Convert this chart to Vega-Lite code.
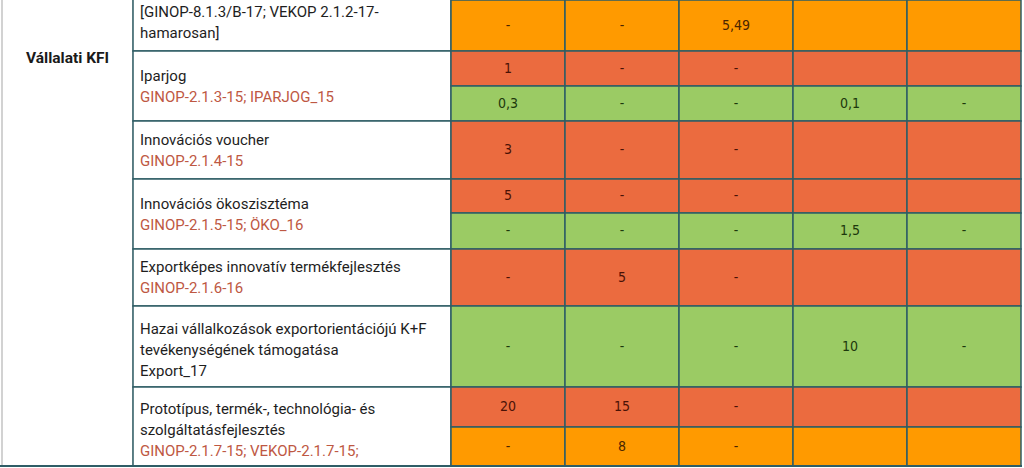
{
  "$schema": "https://vega.github.io/schema/vega-lite/v6.json",
  "width": 1024,
  "height": 468,
  "autosize": {"type": "fit", "contains": "padding"},
  "padding": 0,
  "background": "white",
  "config": {"view": {"stroke": null}},
  "datasets": {
    "left": [{"id": "L", "x0": 2, "x1": 133, "top": -350, "bottom": 466, "label": "Vállalati KFI"}],
    "desc": [
      {"id": "D0", "lines": 2, "x0": 133, "x1": 451, "top": -6, "bottom": 51, "name": "[GINOP-8.1.3/B-17; VEKOP 2.1.2-17-\nhamarosan]", "code": ""},
      {"id": "D1", "lines": 2, "x0": 133, "x1": 451, "top": 51, "bottom": 121, "name": "Iparjog", "code": "GINOP-2.1.3-15; IPARJOG_15"},
      {"id": "D2", "lines": 2, "x0": 133, "x1": 451, "top": 121, "bottom": 179, "name": "Innovációs voucher", "code": "GINOP-2.1.4-15"},
      {"id": "D3", "lines": 2, "x0": 133, "x1": 451, "top": 179, "bottom": 249, "name": "Innovációs ökoszisztéma", "code": "GINOP-2.1.5-15; ÖKO_16"},
      {"id": "D4", "lines": 2, "x0": 133, "x1": 451, "top": 249, "bottom": 306, "name": "Exportképes innovatív termékfejlesztés", "code": "GINOP-2.1.6-16"},
      {"id": "D5", "lines": 3, "x0": 133, "x1": 451, "top": 306, "bottom": 387, "name": "Hazai vállalkozások exportorientációjú K+F\ntevékenységének támogatása\nExport_17", "code": ""},
      {"id": "D6", "lines": 3, "x0": 133, "x1": 451, "top": 387, "bottom": 466, "name": "Prototípus, termék-, technológia- és\nszolgáltatásfejlesztés", "code": "GINOP-2.1.7-15; VEKOP-2.1.7-15;"}
    ],
    "vals": [
      {"r": 0, "kind": "orange", "c": 1, "x0": 451, "x1": 565, "top": 0, "bottom": 51, "v": "-"},
      {"r": 0, "kind": "orange", "c": 2, "x0": 565, "x1": 679, "top": 0, "bottom": 51, "v": "-"},
      {"r": 0, "kind": "orange", "c": 3, "x0": 679, "x1": 793, "top": 0, "bottom": 51, "v": "5,49"},
      {"r": 0, "kind": "orange", "c": 4, "x0": 793, "x1": 907, "top": 0, "bottom": 51, "v": ""},
      {"r": 0, "kind": "orange", "c": 5, "x0": 907, "x1": 1021, "top": 0, "bottom": 51, "v": ""},
      {"r": 1, "kind": "red", "c": 1, "x0": 451, "x1": 565, "top": 51, "bottom": 86, "v": "1"},
      {"r": 1, "kind": "red", "c": 2, "x0": 565, "x1": 679, "top": 51, "bottom": 86, "v": "-"},
      {"r": 1, "kind": "red", "c": 3, "x0": 679, "x1": 793, "top": 51, "bottom": 86, "v": "-"},
      {"r": 1, "kind": "red", "c": 4, "x0": 793, "x1": 907, "top": 51, "bottom": 86, "v": ""},
      {"r": 1, "kind": "red", "c": 5, "x0": 907, "x1": 1021, "top": 51, "bottom": 86, "v": ""},
      {"r": 2, "kind": "green", "c": 1, "x0": 451, "x1": 565, "top": 86, "bottom": 121, "v": "0,3"},
      {"r": 2, "kind": "green", "c": 2, "x0": 565, "x1": 679, "top": 86, "bottom": 121, "v": "-"},
      {"r": 2, "kind": "green", "c": 3, "x0": 679, "x1": 793, "top": 86, "bottom": 121, "v": "-"},
      {"r": 2, "kind": "green", "c": 4, "x0": 793, "x1": 907, "top": 86, "bottom": 121, "v": "0,1"},
      {"r": 2, "kind": "green", "c": 5, "x0": 907, "x1": 1021, "top": 86, "bottom": 121, "v": "-"},
      {"r": 3, "kind": "red", "c": 1, "x0": 451, "x1": 565, "top": 121, "bottom": 179, "v": "3"},
      {"r": 3, "kind": "red", "c": 2, "x0": 565, "x1": 679, "top": 121, "bottom": 179, "v": "-"},
      {"r": 3, "kind": "red", "c": 3, "x0": 679, "x1": 793, "top": 121, "bottom": 179, "v": "-"},
      {"r": 3, "kind": "red", "c": 4, "x0": 793, "x1": 907, "top": 121, "bottom": 179, "v": ""},
      {"r": 3, "kind": "red", "c": 5, "x0": 907, "x1": 1021, "top": 121, "bottom": 179, "v": ""},
      {"r": 4, "kind": "red", "c": 1, "x0": 451, "x1": 565, "top": 179, "bottom": 213, "v": "5"},
      {"r": 4, "kind": "red", "c": 2, "x0": 565, "x1": 679, "top": 179, "bottom": 213, "v": "-"},
      {"r": 4, "kind": "red", "c": 3, "x0": 679, "x1": 793, "top": 179, "bottom": 213, "v": "-"},
      {"r": 4, "kind": "red", "c": 4, "x0": 793, "x1": 907, "top": 179, "bottom": 213, "v": ""},
      {"r": 4, "kind": "red", "c": 5, "x0": 907, "x1": 1021, "top": 179, "bottom": 213, "v": ""},
      {"r": 5, "kind": "green", "c": 1, "x0": 451, "x1": 565, "top": 213, "bottom": 249, "v": "-"},
      {"r": 5, "kind": "green", "c": 2, "x0": 565, "x1": 679, "top": 213, "bottom": 249, "v": "-"},
      {"r": 5, "kind": "green", "c": 3, "x0": 679, "x1": 793, "top": 213, "bottom": 249, "v": "-"},
      {"r": 5, "kind": "green", "c": 4, "x0": 793, "x1": 907, "top": 213, "bottom": 249, "v": "1,5"},
      {"r": 5, "kind": "green", "c": 5, "x0": 907, "x1": 1021, "top": 213, "bottom": 249, "v": "-"},
      {"r": 6, "kind": "red", "c": 1, "x0": 451, "x1": 565, "top": 249, "bottom": 306, "v": "-"},
      {"r": 6, "kind": "red", "c": 2, "x0": 565, "x1": 679, "top": 249, "bottom": 306, "v": "5"},
      {"r": 6, "kind": "red", "c": 3, "x0": 679, "x1": 793, "top": 249, "bottom": 306, "v": "-"},
      {"r": 6, "kind": "red", "c": 4, "x0": 793, "x1": 907, "top": 249, "bottom": 306, "v": ""},
      {"r": 6, "kind": "red", "c": 5, "x0": 907, "x1": 1021, "top": 249, "bottom": 306, "v": ""},
      {"r": 7, "kind": "green", "c": 1, "x0": 451, "x1": 565, "top": 306, "bottom": 387, "v": "-"},
      {"r": 7, "kind": "green", "c": 2, "x0": 565, "x1": 679, "top": 306, "bottom": 387, "v": "-"},
      {"r": 7, "kind": "green", "c": 3, "x0": 679, "x1": 793, "top": 306, "bottom": 387, "v": "-"},
      {"r": 7, "kind": "green", "c": 4, "x0": 793, "x1": 907, "top": 306, "bottom": 387, "v": "10"},
      {"r": 7, "kind": "green", "c": 5, "x0": 907, "x1": 1021, "top": 306, "bottom": 387, "v": "-"},
      {"r": 8, "kind": "red", "c": 1, "x0": 451, "x1": 565, "top": 387, "bottom": 427, "v": "20"},
      {"r": 8, "kind": "red", "c": 2, "x0": 565, "x1": 679, "top": 387, "bottom": 427, "v": "15"},
      {"r": 8, "kind": "red", "c": 3, "x0": 679, "x1": 793, "top": 387, "bottom": 427, "v": "-"},
      {"r": 8, "kind": "red", "c": 4, "x0": 793, "x1": 907, "top": 387, "bottom": 427, "v": ""},
      {"r": 8, "kind": "red", "c": 5, "x0": 907, "x1": 1021, "top": 387, "bottom": 427, "v": ""},
      {"r": 9, "kind": "orange", "c": 1, "x0": 451, "x1": 565, "top": 427, "bottom": 466, "v": "-"},
      {"r": 9, "kind": "orange", "c": 2, "x0": 565, "x1": 679, "top": 427, "bottom": 466, "v": "8"},
      {"r": 9, "kind": "orange", "c": 3, "x0": 679, "x1": 793, "top": 427, "bottom": 466, "v": "-"},
      {"r": 9, "kind": "orange", "c": 4, "x0": 793, "x1": 907, "top": 427, "bottom": 466, "v": ""},
      {"r": 9, "kind": "orange", "c": 5, "x0": 907, "x1": 1021, "top": 427, "bottom": 466, "v": ""}
    ],
    "rules": [{"x0": 0, "x1": 1022, "y": 466}]
  },
  "layer": [
    {
      "data": {"name": "left"},
      "mark": {"type": "rect", "fill": "white", "stroke": "#c4c4c4", "strokeWidth": 1.5, "clip": true},
      "encoding": {
        "x": {"field": "x0", "type": "quantitative", "scale": {"domain": [0, 1024], "nice": false, "zero": false}, "axis": null},
        "x2": {"field": "x1"},
        "y": {"field": "top", "type": "quantitative", "scale": {"domain": [0, 468], "reverse": true, "nice": false, "zero": false}, "axis": null},
        "y2": {"field": "bottom"}
      }
    },
    {
      "data": {"name": "desc"},
      "mark": {"type": "rect", "fill": "white", "stroke": "#2f5d66", "strokeWidth": 1.5, "clip": true},
      "encoding": {
        "x": {"field": "x0", "type": "quantitative", "scale": {"domain": [0, 1024], "nice": false, "zero": false}, "axis": null},
        "x2": {"field": "x1"},
        "y": {"field": "top", "type": "quantitative", "scale": {"domain": [0, 468], "reverse": true, "nice": false, "zero": false}, "axis": null},
        "y2": {"field": "bottom"}
      }
    },
    {
      "data": {"name": "vals"},
      "mark": {"type": "rect", "stroke": "#2f5d66", "strokeWidth": 1.5, "clip": true},
      "encoding": {
        "x": {"field": "x0", "type": "quantitative", "scale": {"domain": [0, 1024], "nice": false, "zero": false}, "axis": null},
        "x2": {"field": "x1"},
        "y": {"field": "top", "type": "quantitative", "scale": {"domain": [0, 468], "reverse": true, "nice": false, "zero": false}, "axis": null},
        "y2": {"field": "bottom"},
        "fill": {"field": "kind", "type": "nominal", "scale": {"domain": ["orange", "red", "green"], "range": ["#FF9A00", "#EB6B3F", "#9BCB64"]}, "legend": null}
      }
    },
    {
      "data": {"name": "rules"},
      "mark": {"type": "rule", "stroke": "#2f5d66", "strokeWidth": 2, "clip": true},
      "encoding": {
        "x": {"field": "x0", "type": "quantitative", "scale": {"domain": [0, 1024], "nice": false, "zero": false}, "axis": null},
        "x2": {"field": "x1"},
        "y": {"field": "y", "type": "quantitative", "scale": {"domain": [0, 468], "reverse": true, "nice": false, "zero": false}, "axis": null}
      }
    },
    {
      "data": {"name": "left"},
      "transform": [
        {"fold": ["top", "bottom"], "as": ["ky", "yv"]},
        {"fold": ["x0", "x1"], "as": ["kx", "xv"]}
      ],
      "mark": {"type": "text", "font": "Roboto", "fontSize": 15.5, "fontWeight": "bold", "color": "#1a1a1a", "align": "center", "baseline": "middle", "clip": true},
      "encoding": {
        "x": {"field": "xv", "aggregate": "mean", "type": "quantitative", "scale": {"domain": [0, 1024], "nice": false, "zero": false}, "axis": null},
        "y": {"field": "yv", "aggregate": "mean", "type": "quantitative", "scale": {"domain": [0, 468], "reverse": true, "nice": false, "zero": false}, "axis": null},
        "text": {"field": "label"}
      }
    },
    {
      "data": {"name": "desc"},
      "transform": [{"filter": "datum.lines == 2"}, {"fold": ["top", "bottom"], "as": ["ky", "yv"]}],
      "mark": {"type": "text", "font": "Roboto", "fontSize": 15, "lineHeight": 21, "lineBreak": "\n", "color": "#1e1e1e", "align": "left", "baseline": "middle", "dx": 7, "dy": -10.5, "clip": true},
      "encoding": {
        "x": {"field": "x0", "type": "quantitative", "scale": {"domain": [0, 1024], "nice": false, "zero": false}, "axis": null},
        "y": {"field": "yv", "aggregate": "mean", "type": "quantitative", "scale": {"domain": [0, 468], "reverse": true, "nice": false, "zero": false}, "axis": null},
        "text": {"field": "name"},
        "detail": {"field": "id"}
      }
    },
    {
      "data": {"name": "desc"},
      "transform": [{"filter": "datum.lines == 3"}, {"fold": ["top", "bottom"], "as": ["ky", "yv"]}],
      "mark": {"type": "text", "font": "Roboto", "fontSize": 15, "lineHeight": 21, "lineBreak": "\n", "color": "#1e1e1e", "align": "left", "baseline": "middle", "dx": 7, "dy": -18, "clip": true},
      "encoding": {
        "x": {"field": "x0", "type": "quantitative", "scale": {"domain": [0, 1024], "nice": false, "zero": false}, "axis": null},
        "y": {"field": "yv", "aggregate": "mean", "type": "quantitative", "scale": {"domain": [0, 468], "reverse": true, "nice": false, "zero": false}, "axis": null},
        "text": {"field": "name"},
        "detail": {"field": "id"}
      }
    },
    {
      "data": {"name": "desc"},
      "transform": [{"filter": "datum.code != '' && datum.lines == 2"}, {"fold": ["top", "bottom"], "as": ["ky", "yv"]}],
      "mark": {"type": "text", "font": "Roboto", "fontSize": 15, "color": "#BE5843", "align": "left", "baseline": "middle", "dx": 7, "dy": 10.5, "clip": true},
      "encoding": {
        "x": {"field": "x0", "type": "quantitative", "scale": {"domain": [0, 1024], "nice": false, "zero": false}, "axis": null},
        "y": {"field": "yv", "aggregate": "mean", "type": "quantitative", "scale": {"domain": [0, 468], "reverse": true, "nice": false, "zero": false}, "axis": null},
        "text": {"field": "code"},
        "detail": {"field": "id"}
      }
    },
    {
      "data": {"name": "desc"},
      "transform": [{"filter": "datum.code != '' && datum.lines == 3"}, {"fold": ["top", "bottom"], "as": ["ky", "yv"]}],
      "mark": {"type": "text", "font": "Roboto", "fontSize": 15, "color": "#BE5843", "align": "left", "baseline": "middle", "dx": 7, "dy": 24, "clip": true},
      "encoding": {
        "x": {"field": "x0", "type": "quantitative", "scale": {"domain": [0, 1024], "nice": false, "zero": false}, "axis": null},
        "y": {"field": "yv", "aggregate": "mean", "type": "quantitative", "scale": {"domain": [0, 468], "reverse": true, "nice": false, "zero": false}, "axis": null},
        "text": {"field": "code"},
        "detail": {"field": "id"}
      }
    },
    {
      "data": {"name": "vals"},
      "transform": [
        {"filter": "datum.v != ''"},
        {"fold": ["top", "bottom"], "as": ["ky", "yv"]},
        {"fold": ["x0", "x1"], "as": ["kx", "xv"]}
      ],
      "mark": {"type": "text", "font": "'DejaVu Sans Condensed', 'Roboto', sans-serif", "fontSize": 14, "align": "center", "baseline": "middle", "clip": true},
      "encoding": {
        "x": {"field": "xv", "aggregate": "mean", "type": "quantitative", "scale": {"domain": [0, 1024], "nice": false, "zero": false}, "axis": null},
        "y": {"field": "yv", "aggregate": "mean", "type": "quantitative", "scale": {"domain": [0, 468], "reverse": true, "nice": false, "zero": false}, "axis": null},
        "text": {"field": "v"},
        "color": {"field": "kind", "type": "nominal", "scale": {"domain": ["orange", "red", "green"], "range": ["#4a2500", "#4a1206", "#1d380c"]}, "legend": null},
        "detail": [{"field": "r"}, {"field": "c"}]
      }
    }
  ]
}
